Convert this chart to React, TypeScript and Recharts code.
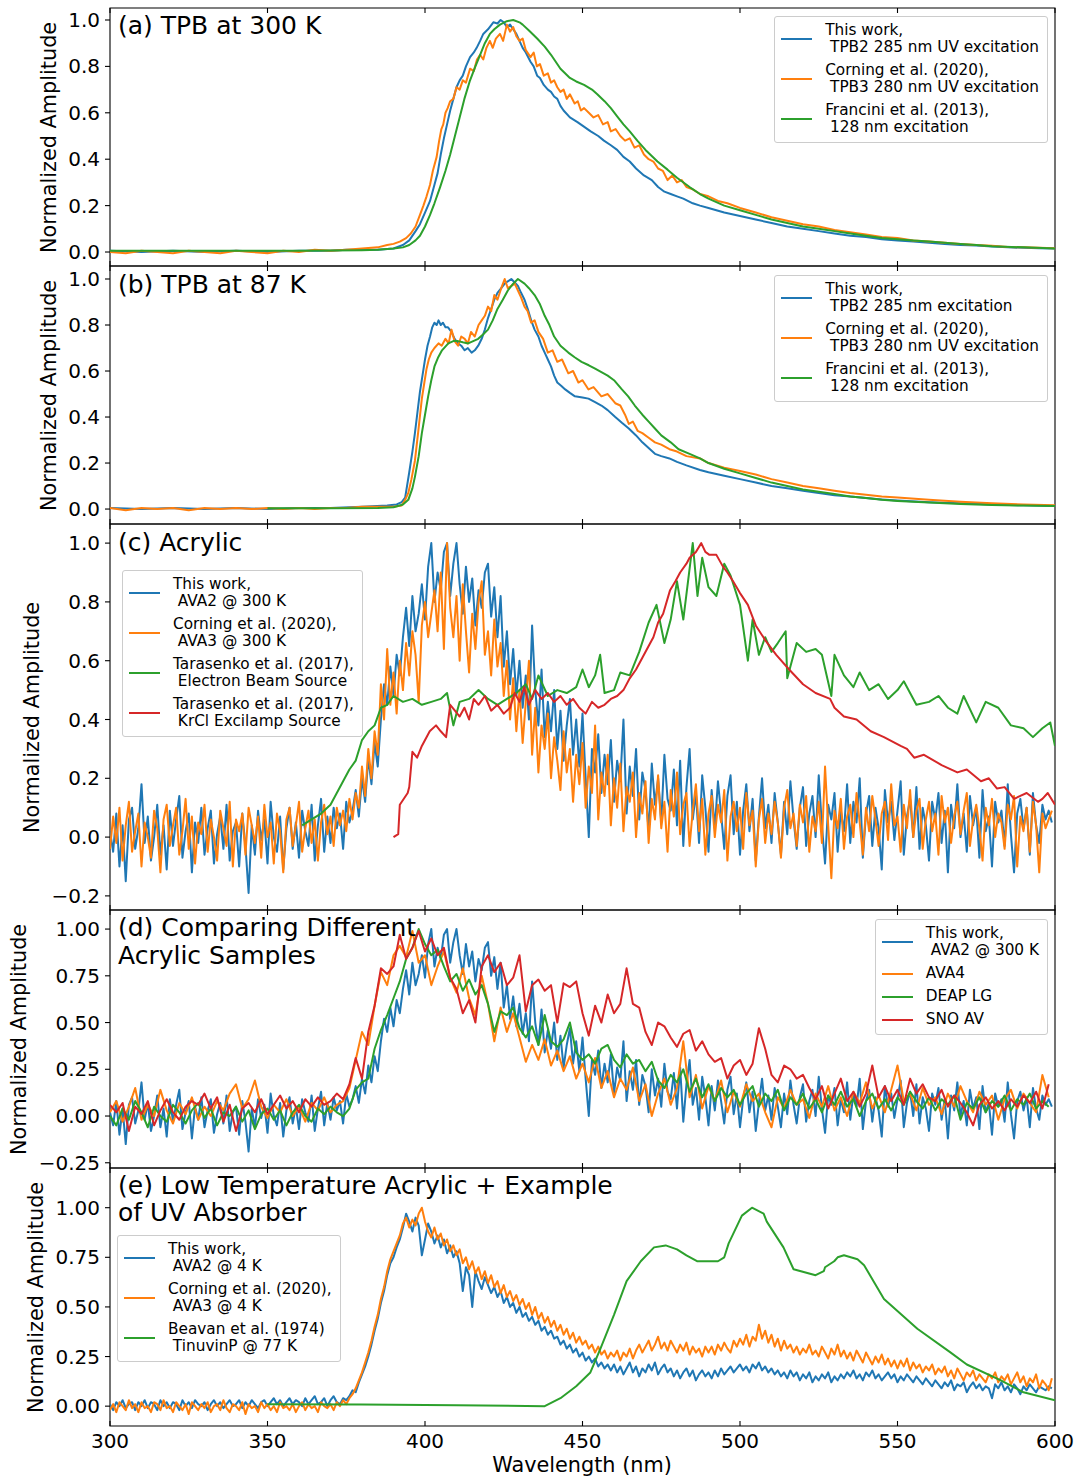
import React from 'react';
import { LineChart, Line, XAxis, YAxis, ReferenceArea } from 'recharts';

const C_BLUE = '#1f77b4';
const C_ORANGE = '#ff7f0e';
const C_GREEN = '#2ca02c';
const C_RED = '#d62728';
const FONT = "'DejaVu Sans', 'Liberation Sans', sans-serif";

const xTicks = [300, 350, 400, 450, 500, 550, 600];

// ---------- Panel (a): TPB at 300 K  [wavelength, amplitude]
const tpb300ThisWork = [[300,0.005],[310,0.0],[320,0.005],[330,0.0],[340,0.005],[350,0.0],[360,0.005],[370,0.005],[375,0.01],[380,0.01],[385,0.01],[390,0.015],[393,0.03],[395,0.05],[397,0.09],[398.4,0.12],[400,0.17],[401.6,0.22],[403,0.29],[404,0.34],[405,0.42],[406,0.49],[407,0.55],[408,0.61],[409,0.66],[410,0.71],[411,0.74],[412,0.76],[413,0.8],[414.3,0.84],[415.5,0.86],[416.4,0.88],[417.5,0.91],[418.5,0.94],[420,0.96],[421.7,0.99],[423,0.985],[424,1.0],[425,0.99],[426,0.97],[427,0.98],[428,0.96],[429,0.94],[430,0.91],[431,0.88],[432,0.86],[433.5,0.82],[434.5,0.8],[435.6,0.76],[436.5,0.75],[437.7,0.72],[439,0.7],[440,0.69],[441,0.67],[442,0.66],[443,0.63],[444,0.61],[446,0.58],[448.4,0.56],[450,0.545],[452.6,0.52],[455,0.5],[456.8,0.48],[459,0.46],[461,0.44],[463,0.41],[465,0.39],[467,0.36],[469.5,0.33],[472,0.31],[474,0.28],[476,0.26],[478,0.25],[480,0.24],[482,0.23],[485,0.21],[487.3,0.2],[490,0.19],[495,0.17],[500,0.155],[505,0.14],[510,0.125],[515,0.11],[520,0.1],[525,0.09],[530,0.08],[535,0.07],[540,0.065],[545,0.055],[550,0.05],[555,0.045],[560,0.04],[565,0.035],[570,0.03],[575,0.028],[580,0.024],[585,0.02],[590,0.018],[595,0.016],[600,0.015]];
const tpb300Corning = [[300,0.0],[305,-0.005],[310,0.005],[315,0.0],[320,-0.005],[325,0.005],[330,0.0],[335,-0.005],[340,0.005],[345,0.0],[350,-0.005],[355,0.005],[360,0.0],[365,0.01],[370,0.005],[375,0.01],[380,0.015],[385,0.02],[388,0.03],[390,0.035],[392,0.045],[394,0.06],[395.5,0.08],[397,0.11],[398.4,0.16],[399.5,0.2],[400.5,0.24],[401.6,0.29],[402.5,0.35],[403.7,0.41],[404.5,0.48],[405.2,0.53],[405.8,0.55],[406.5,0.6],[407.2,0.62],[408,0.65],[409,0.66],[410,0.71],[411,0.7],[412,0.74],[413,0.73],[414.3,0.79],[415.5,0.78],[416.5,0.83],[417.5,0.85],[418.5,0.83],[419.5,0.88],[420.6,0.91],[421.5,0.88],[422.5,0.92],[423.8,0.94],[424.8,0.91],[426,0.98],[427,0.95],[428,0.97],[429,0.93],[430,0.91],[431,0.92],[432,0.87],[433.5,0.84],[434.5,0.86],[435.5,0.8],[436.5,0.81],[437.7,0.76],[439,0.77],[440,0.73],[441,0.74],[442,0.71],[443,0.69],[444,0.7],[445,0.66],[446,0.68],[447.5,0.64],[448.5,0.65],[449.5,0.61],[450.5,0.62],[452,0.6],[453.5,0.58],[455,0.59],[456.5,0.55],[458,0.56],[459,0.52],[460.5,0.53],[462,0.5],[463.5,0.48],[465,0.49],[466.5,0.45],[468,0.46],[469.5,0.42],[471,0.4],[472.5,0.39],[474,0.36],[475.5,0.35],[477,0.31],[478.5,0.33],[480,0.3],[481.5,0.31],[483,0.28],[485,0.27],[487.3,0.25],[490,0.24],[493,0.22],[496,0.21],[500,0.19],[505,0.17],[510,0.15],[515,0.135],[520,0.12],[525,0.11],[530,0.095],[535,0.085],[540,0.075],[545,0.065],[550,0.06],[555,0.05],[560,0.045],[565,0.04],[570,0.035],[575,0.03],[580,0.027],[585,0.022],[590,0.02],[595,0.018],[600,0.016]];
const tpb300Francini = [[300,0.005],[320,0.005],[340,0.005],[360,0.005],[380,0.008],[385,0.01],[390,0.015],[393,0.02],[395,0.03],[397,0.05],[398.4,0.07],[400,0.11],[401.6,0.16],[403,0.21],[404.8,0.28],[406.5,0.35],[408,0.42],[409.5,0.5],[411,0.58],[412.5,0.66],[414.3,0.74],[416,0.8],[417.5,0.85],[419,0.9],[420.6,0.94],[422,0.96],[423.8,0.98],[426,0.995],[428,1.0],[430,0.99],[431,0.98],[433,0.955],[435.6,0.92],[438,0.885],[440,0.85],[443,0.79],[446,0.75],[448,0.735],[450.5,0.72],[453,0.7],[454.7,0.68],[457,0.65],[459,0.62],[461,0.585],[463,0.55],[465,0.52],[467.4,0.48],[470,0.44],[473.8,0.39],[477,0.355],[480,0.32],[484,0.28],[487.3,0.25],[490,0.23],[495,0.2],[500,0.18],[505,0.16],[510,0.14],[515,0.125],[520,0.11],[525,0.1],[530,0.09],[535,0.08],[540,0.07],[545,0.06],[550,0.055],[555,0.05],[560,0.045],[565,0.04],[570,0.035],[575,0.03],[580,0.025],[590,0.02],[600,0.015]];

// ---------- Panel (b): TPB at 87 K
const tpb87ThisWork = [[300,0.005],[310,0.0],[320,0.005],[330,0.0],[340,0.005],[350,0.0],[360,0.005],[370,0.005],[380,0.01],[388,0.015],[391,0.02],[392.6,0.03],[393.7,0.05],[395,0.16],[396,0.25],[396.8,0.33],[397.6,0.42],[398.4,0.51],[399.2,0.58],[400,0.65],[400.8,0.71],[401.6,0.75],[402.3,0.79],[403,0.81],[403.7,0.8],[404.3,0.82],[405,0.8],[405.7,0.81],[406.5,0.79],[407.3,0.79],[408.4,0.77],[409.4,0.74],[410.5,0.72],[411.5,0.71],[412.6,0.69],[413.6,0.7],[414.8,0.68],[415.8,0.69],[416.9,0.71],[418,0.74],[419,0.78],[420,0.83],[421,0.87],[422,0.91],[423,0.94],[424.2,0.96],[425.3,0.98],[426.3,0.99],[427.4,1.0],[428.5,0.985],[429.5,0.97],[430.5,0.94],[431.6,0.91],[432.6,0.87],[433.7,0.82],[434.8,0.78],[436,0.75],[437,0.71],[438,0.68],[439,0.65],[440,0.62],[441,0.58],[442,0.55],[443.3,0.535],[444.5,0.52],[446,0.505],[447.6,0.49],[450,0.485],[451.9,0.48],[454,0.465],[456,0.45],[458,0.43],[460.4,0.4],[462.5,0.375],[464.7,0.35],[467,0.32],[469,0.29],[471,0.265],[473,0.24],[475,0.23],[477.6,0.22],[480,0.205],[483,0.19],[487.3,0.17],[490,0.16],[495,0.145],[500,0.13],[505,0.115],[510,0.1],[515,0.09],[520,0.08],[525,0.07],[530,0.06],[535,0.055],[540,0.048],[545,0.042],[550,0.037],[560,0.03],[570,0.025],[580,0.02],[590,0.016],[600,0.013]];
const tpb87Corning = [[300,0.005],[305,-0.005],[310,0.005],[315,0.0],[320,0.005],[325,-0.005],[330,0.005],[335,0.0],[340,0.005],[345,0.0],[350,0.005],[355,0.0],[360,0.005],[365,0.0],[370,0.005],[375,0.005],[380,0.01],[385,0.01],[390,0.01],[392.6,0.015],[393.7,0.04],[394.7,0.07],[395.7,0.13],[396.8,0.21],[397.8,0.33],[399,0.48],[399.8,0.55],[400.5,0.61],[401.2,0.65],[402,0.68],[403,0.7],[404.3,0.72],[405.3,0.71],[406.5,0.74],[407.5,0.72],[408.4,0.78],[409.4,0.73],[410.5,0.71],[411.5,0.75],[412.6,0.74],[413.6,0.72],[414.6,0.77],[415.8,0.75],[417,0.8],[418,0.82],[419,0.84],[420,0.88],[421,0.86],[422,0.93],[423,0.91],[424.2,0.96],[425.3,1.0],[426.3,0.96],[427.4,0.97],[428.5,0.98],[429.5,0.95],[430.5,0.92],[431.6,0.88],[432.6,0.86],[433.7,0.81],[434.8,0.82],[436,0.77],[437.5,0.74],[439,0.68],[440.5,0.69],[442,0.64],[443.5,0.65],[445.5,0.59],[447,0.6],[448.7,0.55],[450,0.56],[451.9,0.52],[453.5,0.53],[456,0.49],[458,0.5],[460.4,0.46],[462,0.45],[463.5,0.41],[464.7,0.37],[466,0.38],[467.5,0.34],[469,0.33],[471,0.31],[473,0.29],[475,0.28],[477.6,0.26],[480,0.25],[483,0.23],[487.3,0.22],[490,0.2],[495,0.18],[500,0.165],[505,0.15],[510,0.13],[515,0.115],[520,0.1],[525,0.09],[530,0.08],[535,0.07],[540,0.062],[545,0.055],[550,0.05],[560,0.04],[570,0.032],[580,0.025],[590,0.02],[600,0.016]];
const tpb87Francini = [[350,0.003],[370,0.003],[385,0.005],[390,0.008],[393,0.02],[394.7,0.04],[396,0.09],[396.8,0.14],[398,0.23],[399,0.33],[400,0.41],[401,0.49],[402,0.56],[403,0.62],[404.2,0.66],[405.4,0.69],[407.4,0.72],[409,0.73],[410.5,0.73],[412,0.725],[413.7,0.72],[415.3,0.73],[416.9,0.74],[418.5,0.76],[420,0.78],[421.5,0.82],[423,0.87],[424.7,0.91],[426.3,0.95],[428,0.98],[429.5,1.0],[431.6,0.98],[433,0.96],[434.8,0.93],[436.5,0.89],[438,0.84],[439.5,0.8],[441,0.75],[443,0.71],[445.5,0.68],[447.5,0.66],[449.7,0.64],[452,0.625],[454,0.61],[456,0.595],[458,0.58],[460,0.56],[462.5,0.52],[464.5,0.49],[466.6,0.45],[469,0.41],[471,0.38],[473,0.35],[475,0.32],[478,0.29],[480.5,0.26],[484,0.24],[487.3,0.22],[490,0.2],[495,0.175],[500,0.155],[505,0.135],[510,0.115],[515,0.1],[520,0.085],[525,0.075],[530,0.065],[535,0.055],[540,0.048],[545,0.04],[550,0.035],[560,0.028],[570,0.022],[580,0.018],[590,0.015],[600,0.013]];

// ---------- Panel (c): Acrylic. Sampled every 1 nm from 300 nm
const ava2At300K = [
  0.02, -0.05, 0.08, -0.10, 0.04, -0.15, 0.06, 0.10, -0.04, 0.03,
  0.18, -0.02, 0.07, -0.08, 0.00, 0.11, -0.06, 0.04, -0.11, 0.09,
  -0.03, 0.06, 0.14, -0.07, 0.02, 0.08, -0.12, 0.05, -0.02, 0.10,
  -0.06, 0.03, 0.09, -0.09, 0.01, 0.07, -0.04, 0.11, -0.08, 0.02,
  0.05, -0.10, 0.08, -0.03, -0.19, 0.04, -0.06, 0.09, -0.01, 0.06,
  -0.09, 0.12, 0.00, -0.05, 0.07, -0.11, 0.03, 0.10, -0.04, 0.05,
  -0.07, 0.09, 0.02, -0.03, 0.11, -0.08, 0.04, 0.13, -0.05, 0.07,
  -0.02, 0.10, 0.03, 0.08, -0.04, 0.12, 0.05, 0.09, 0.16, 0.07,
  0.20, 0.12, 0.27, 0.18, 0.32, 0.24, 0.40, 0.52, 0.45, 0.58,
  0.48, 0.62, 0.55, 0.68, 0.78, 0.65, 0.82, 0.70, 0.76, 0.86,
  0.74, 0.92, 1.00, 0.80, 0.90, 0.84, 0.97, 1.00, 0.82, 0.93,
  1.00, 0.86, 0.76, 0.92, 0.80, 0.88, 0.72, 0.84, 0.78, 0.90,
  0.93, 0.75, 0.85, 0.68, 0.82, 0.58, 0.70, 0.52, 0.64, 0.48,
  0.60, 0.44, 0.55, 0.40, 0.72, 0.50, 0.38, 0.57, 0.34, 0.46,
  0.36, 0.50, 0.30, 0.43, 0.26, 0.38, 0.47, 0.28, 0.40, 0.24,
  0.42, 0.20, 0.00, 0.30, 0.22, 0.35, 0.15, 0.28, 0.18, 0.33,
  0.12, 0.26, 0.19, 0.40, 0.08, 0.24, 0.14, 0.30, 0.06, 0.22,
  0.16, 0.02, 0.25, 0.11, 0.20, 0.05, 0.28, 0.13, 0.09, 0.23,
  0.04, 0.26, -0.03, 0.17, 0.30, 0.06, 0.15, -0.02, 0.21, 0.10,
  -0.05, 0.16, 0.03, 0.19, 0.08, -0.04, 0.14, 0.21, 0.01, 0.12,
  -0.06, 0.09, 0.18, 0.02, 0.13, -0.08, 0.07, 0.20, 0.03, 0.11,
  -0.02, 0.15, 0.05, -0.06, 0.12, 0.01, 0.19, 0.06, -0.04, 0.10,
  0.17, -0.03, 0.08, 0.14, 0.00, 0.21, 0.04, -0.09, 0.11, 0.06,
  0.15, -0.05, 0.09, 0.02, 0.18, -0.02, 0.12, 0.05, 0.20, -0.07,
  0.08, 0.14, -0.03, 0.10, 0.03, -0.11, 0.16, 0.05, 0.12, -0.01,
  0.09, 0.19, -0.06, 0.07, 0.13, 0.00, 0.17, -0.04, 0.10, 0.04,
  -0.08, 0.12, 0.06, 0.15, -0.02, 0.09, -0.12, 0.11, 0.03, 0.18,
  0.00, 0.08, -0.05, 0.14, 0.04, 0.10, -0.07, 0.16, 0.02, 0.07,
  -0.10, 0.12, 0.05, 0.09, -0.03, 0.18, 0.01, -0.12, 0.08, 0.13,
  0.03, 0.10, -0.06, 0.15, 0.04, -0.02, 0.11, 0.06, 0.09, 0.05,
];
const ava3At300K = [
  -0.04, 0.07, -0.02, 0.10, -0.08, 0.04, 0.12, -0.05, 0.02, 0.08,
  -0.10, 0.05, 0.00, -0.07, 0.09, 0.03, -0.12, 0.06, 0.11, -0.03,
  0.04, 0.10, -0.06, 0.02, 0.13, -0.04, 0.07, -0.09, 0.05, 0.01,
  0.11, -0.05, 0.06, 0.00, -0.08, 0.09, 0.03, -0.03, 0.12, -0.10,
  0.06, 0.02, 0.08, -0.06, 0.10, 0.04, -0.02, 0.07, -0.07, 0.11,
  0.00, 0.05, -0.09, 0.08, 0.02, -0.12, 0.06, 0.10, -0.03, 0.04,
  0.12, -0.05, 0.03, 0.09, -0.02, 0.06, -0.08, 0.05, 0.11, 0.01,
  0.07, -0.03, 0.10, 0.04, 0.09, 0.02, 0.13, 0.06, 0.15, 0.10,
  0.24, 0.14, 0.30, 0.20, 0.36, 0.28, 0.52, 0.40, 0.64, 0.45,
  0.56, 0.42, 0.60, 0.50, 0.66, 0.55, 0.70, 0.62, 0.46, 0.72,
  0.80, 0.68, 0.76, 0.84, 0.70, 0.90, 0.64, 1.00, 0.78, 0.68,
  0.82, 0.60, 0.86, 0.70, 0.56, 0.76, 0.64, 0.80, 0.87, 0.62,
  0.70, 0.55, 0.74, 0.58, 0.66, 0.48, 0.60, 0.40, 0.54, 0.36,
  0.50, 0.32, 0.46, 0.60, 0.28, 0.44, 0.22, 0.38, 0.30, 0.42,
  0.20, 0.34, 0.26, 0.16, 0.36, 0.22, 0.30, 0.12, 0.28, 0.18,
  0.32, 0.10, 0.24, 0.15, 0.38, 0.06, 0.22, 0.14, 0.28, 0.04,
  0.20, 0.10, 0.25, 0.02, 0.17, 0.12, 0.22, 0.00, 0.15, 0.08,
  0.19, -0.02, 0.13, 0.06, 0.21, 0.03, 0.12, -0.05, 0.16, 0.07,
  0.22, 0.01, 0.11, 0.15, -0.03, 0.09, 0.18, 0.02, 0.13, -0.06,
  0.08, 0.14, 0.00, 0.11, 0.05, 0.16, -0.08, 0.07, 0.12, 0.02,
  0.10, -0.04, 0.15, 0.04, 0.09, -0.10, 0.06, 0.13, -0.02, 0.08,
  0.01, 0.12, 0.05, -0.07, 0.10, 0.16, 0.03, 0.08, -0.03, 0.11,
  0.05, 0.14, -0.05, 0.07, 0.02, 0.12, -0.02, 0.24, 0.04, -0.14,
  0.09, 0.03, 0.13, -0.04, 0.07, 0.11, 0.00, 0.15, 0.05, -0.06,
  0.10, 0.02, 0.14, 0.06, -0.03, 0.08, 0.12, -0.01, 0.18, 0.04,
  0.07, -0.05, 0.11, 0.03, 0.16, 0.00, 0.09, 0.13, -0.04, 0.06,
  0.12, 0.02, 0.08, -0.06, 0.14, 0.05, 0.10, -0.02, 0.07, 0.12,
  0.01, 0.09, 0.15, -0.03, 0.06, 0.11, 0.03, -0.08, 0.10, 0.04,
  0.13, 0.00, 0.08, 0.05, -0.04, 0.11, 0.06, 0.14, -0.10, 0.07,
  0.02, 0.10, -0.05, 0.12, 0.04, -0.12, 0.08, 0.03, 0.06, 0.09,
];
const tarasenkoEBeam = [[361,0.04],[364,0.06],[367,0.08],[370,0.11],[372,0.15],[374,0.19],[376,0.23],[378,0.26],[380,0.33],[382,0.36],[384,0.38],[386,0.44],[388,0.45],[390,0.48],[393,0.46],[396,0.47],[399,0.45],[402,0.46],[405,0.47],[407,0.49],[409,0.38],[411,0.46],[414,0.47],[417,0.5],[420,0.47],[423,0.45],[426,0.47],[429,0.49],[432,0.52],[434,0.47],[436,0.55],[439,0.48],[442,0.5],[445,0.49],[448,0.51],[450,0.57],[452,0.51],[454,0.55],[455.6,0.62],[457,0.49],[460,0.5],[462,0.56],[465,0.55],[468,0.63],[471,0.73],[473.5,0.79],[476,0.66],[478,0.74],[480,0.87],[482,0.74],[485,1.0],[486.5,0.82],[488,0.95],[490,0.85],[492.5,0.82],[495,0.93],[497,0.89],[500,0.79],[502.5,0.6],[504,0.74],[506,0.62],[508,0.68],[510,0.63],[512,0.66],[514.5,0.7],[515,0.54],[518,0.66],[521,0.63],[524,0.64],[526,0.62],[529,0.48],[530,0.62],[533,0.55],[536,0.51],[538,0.56],[541,0.5],[544,0.52],[547,0.47],[550,0.5],[552,0.53],[556,0.45],[560,0.46],[563,0.48],[566,0.44],[569,0.42],[571,0.48],[575,0.39],[578,0.46],[582,0.44],[586,0.38],[590,0.37],[593,0.34],[596,0.37],[598.5,0.39],[600,0.31]];
const tarasenkoKrCl = [[390,0.0],[391.5,0.01],[392,0.11],[394.5,0.15],[395,0.17],[396,0.29],[397.5,0.27],[399,0.31],[401.5,0.36],[403.5,0.38],[405,0.36],[406.7,0.34],[408,0.45],[409.5,0.43],[411,0.41],[412.5,0.44],[414,0.4],[415.5,0.47],[417,0.45],[419,0.48],[421,0.43],[423,0.45],[425,0.42],[427,0.44],[428.5,0.49],[430,0.46],[431.5,0.51],[433,0.45],[435,0.5],[437,0.47],[439,0.49],[441,0.46],[443,0.48],[445,0.45],[447,0.47],[449,0.44],[451,0.42],[453,0.46],[455,0.44],[457,0.45],[459,0.47],[461,0.48],[463,0.5],[465,0.54],[467,0.57],[469,0.61],[471,0.65],[472.5,0.68],[474,0.73],[475.6,0.76],[477.8,0.84],[479.5,0.87],[481,0.9],[483,0.93],[484,0.95],[486,0.97],[487.7,1.0],[489,0.97],[490.3,0.96],[492.5,0.96],[494.6,0.92],[496,0.9],[497.8,0.87],[500,0.83],[502.5,0.79],[505,0.72],[508,0.67],[511.5,0.62],[515.6,0.57],[520,0.52],[524,0.49],[528.6,0.47],[530,0.44],[533,0.41],[537,0.4],[541.5,0.36],[545.7,0.34],[551,0.31],[553,0.3],[555.3,0.27],[558.4,0.28],[564,0.245],[569,0.22],[572,0.23],[576.5,0.19],[579,0.2],[581.6,0.165],[584,0.17],[587,0.13],[589,0.14],[591,0.15],[594.6,0.12],[596,0.13],[597.7,0.15],[600,0.11]];

// ---------- Panel (d): other acrylic samples (every 2 nm from 300 nm)
const ava4 = [
  0.02, 0.08, -0.03, 0.05, 0.15, -0.02, 0.06, 0.00, 0.14, 0.03,
  -0.04, 0.07, 0.01, 0.10, -0.02, 0.05, 0.00, 0.08, 0.03, 0.12,
  0.17, 0.04, 0.09, 0.19, 0.05, -0.01, 0.06, 0.02, 0.09, 0.00,
  0.05, -0.03, 0.07, 0.03, 0.10, 0.02, 0.06, 0.08, 0.15, 0.30,
  0.45, 0.38, 0.59, 0.77, 0.70, 0.86, 0.91, 0.85, 0.99, 0.82,
  0.86, 0.70, 0.80, 0.88, 0.74, 0.66, 0.79, 0.63, 0.54, 0.75,
  0.60, 0.40, 0.58, 0.45, 0.55, 0.42, 0.29, 0.38, 0.30, 0.41,
  0.27, 0.35, 0.24, 0.32, 0.20, 0.28, 0.18, 0.31, 0.15, 0.24,
  0.10, 0.20, 0.14, 0.26, 0.08, 0.17, 0.00, 0.12, 0.20, 0.06,
  0.15, 0.40, 0.10, 0.22, 0.04, 0.16, 0.08, 0.19, 0.02, 0.13,
  0.05, 0.17, 0.08, 0.12, 0.02, -0.06, 0.10, 0.04, 0.14, 0.06,
  0.09, -0.01, 0.12, 0.05, 0.16, 0.03, 0.10, 0.00, 0.13, 0.07,
  0.18, 0.04, 0.11, 0.02, 0.14, 0.27, 0.08, 0.12, 0.03, 0.15,
  0.06, 0.10, 0.01, 0.12, 0.05, 0.16, 0.08, 0.02, 0.13, 0.06,
  0.11, -0.02, 0.09, 0.14, 0.04, 0.12, 0.07, 0.02, 0.22, 0.10,
];
const deapLG = [
  0.00, -0.05, 0.04, -0.02, 0.08, 0.02, -0.06, 0.05, 0.00, -0.03,
  0.06, 0.02, -0.04, 0.03, 0.07, -0.01, 0.04, -0.05, 0.02, 0.00,
  0.05, -0.03, 0.03, -0.07, 0.01, 0.04, -0.02, 0.03, -0.05, 0.02,
  0.06, 0.00, -0.03, 0.04, 0.01, 0.05, 0.02, 0.00, 0.04, 0.14,
  0.18, 0.20, 0.36, 0.46, 0.54, 0.63, 0.72, 0.84, 0.90, 1.00,
  0.92, 0.86, 0.89, 0.80, 0.72, 0.76, 0.67, 0.73, 0.65, 0.70,
  0.60, 0.45, 0.56, 0.54, 0.58, 0.47, 0.42, 0.48, 0.38, 0.54,
  0.40, 0.37, 0.41, 0.50, 0.34, 0.30, 0.33, 0.28, 0.36, 0.38,
  0.30, 0.26, 0.33, 0.28, 0.30, 0.24, 0.29, 0.19, 0.15, 0.22,
  0.18, 0.25, 0.13, 0.20, 0.10, 0.17, 0.08, 0.15, 0.10, 0.14,
  0.06, 0.12, 0.16, 0.05, 0.12, 0.08, 0.14, 0.03, 0.10, 0.06,
  0.12, 0.04, 0.09, 0.02, 0.11, 0.06, 0.13, 0.05, 0.09, 0.00,
  0.08, 0.12, 0.04, 0.09, 0.03, 0.10, 0.06, 0.13, 0.08, 0.04,
  0.10, 0.03, 0.09, 0.06, 0.11, -0.02, 0.07, 0.04, 0.10, 0.02,
  0.08, 0.05, 0.11, 0.03, 0.09, 0.06, 0.12, 0.04, 0.08, 0.05,
];
const snoAV = [
  0.06, 0.02, 0.07, -0.08, 0.05, 0.01, 0.08, -0.05, 0.03, 0.09,
  0.02, -0.02, 0.05, 0.08, 0.06, 0.12, 0.04, 0.10, -0.03, 0.06,
  -0.08, 0.04, 0.07, 0.02, 0.09, 0.01, 0.06, 0.11, 0.04, 0.08,
  0.02, 0.09, 0.05, 0.10, 0.06, 0.08, 0.12, 0.09, 0.17, 0.31,
  0.20, 0.45, 0.59, 0.79, 0.76, 0.80, 0.97, 0.84, 0.90, 0.99,
  0.88, 0.95, 0.86, 0.90, 0.74, 0.68, 0.55, 0.62, 0.50, 0.80,
  0.86, 0.77, 0.82, 0.70, 0.74, 0.86, 0.56, 0.70, 0.73, 0.67,
  0.70, 0.50, 0.71, 0.69, 0.72, 0.55, 0.43, 0.59, 0.50, 0.65,
  0.55, 0.60, 0.79, 0.60, 0.58, 0.45, 0.38, 0.50, 0.48, 0.42,
  0.37, 0.44, 0.46, 0.35, 0.40, 0.33, 0.29, 0.31, 0.20, 0.27,
  0.30, 0.22, 0.28, 0.47, 0.36, 0.22, 0.18, 0.27, 0.25, 0.20,
  0.22, 0.15, 0.09, 0.16, 0.04, 0.12, 0.20, 0.08, 0.13, 0.05,
  0.12, 0.27, 0.10, 0.16, 0.08, 0.14, 0.06, 0.20, 0.12, 0.17,
  0.10, 0.08, 0.14, 0.05, 0.11, 0.07, 0.02, -0.05, 0.06, 0.10,
  0.04, 0.08, 0.03, 0.09, 0.05, 0.11, 0.07, 0.13, 0.04, 0.17,
];

// ---------- Panel (e): low temperature (every 1 nm from 300 nm)
const ava2At4K = [
  0.01, -0.02, 0.02, 0.00, 0.03, -0.01, 0.01, 0.02, -0.02, 0.02,
  0.00, 0.03, -0.01, 0.02, 0.01, -0.02, 0.03, 0.00, 0.02, -0.01,
  0.02, 0.01, -0.02, 0.03, 0.00, 0.02, -0.01, 0.03, 0.01, 0.00,
  0.02, -0.02, 0.01, 0.03, 0.00, 0.02, -0.01, 0.01, 0.03, 0.00,
  0.01, 0.03, -0.01, 0.02, 0.00, 0.03, 0.01, -0.01, 0.02, 0.03,
  0.00, 0.02, 0.04, 0.01, 0.03, 0.00, 0.02, 0.04, 0.01, 0.03,
  0.02, 0.00, 0.04, 0.01, 0.03, 0.05, 0.01, 0.02, 0.04, 0.00,
  0.03, 0.05, 0.02, 0.01, 0.04, 0.03, 0.05, 0.08, 0.07, 0.12,
  0.16, 0.20, 0.25, 0.31, 0.38, 0.44, 0.52, 0.58, 0.66, 0.72,
  0.75, 0.80, 0.84, 0.90, 0.97, 0.93, 0.88, 0.95, 0.91, 0.76,
  0.84, 0.92, 0.88, 0.82, 0.86, 0.80, 0.84, 0.77, 0.81, 0.75,
  0.78, 0.72, 0.58, 0.70, 0.66, 0.50, 0.68, 0.63, 0.59, 0.65,
  0.61, 0.57, 0.60, 0.55, 0.58, 0.52, 0.55, 0.50, 0.52, 0.47,
  0.50, 0.45, 0.47, 0.43, 0.45, 0.41, 0.43, 0.38, 0.40, 0.36,
  0.38, 0.34, 0.35, 0.31, 0.33, 0.29, 0.31, 0.27, 0.29, 0.25,
  0.27, 0.23, 0.25, 0.22, 0.24, 0.20, 0.22, 0.19, 0.21, 0.18,
  0.21, 0.17, 0.20, 0.16, 0.19, 0.22, 0.17, 0.20, 0.15, 0.19,
  0.17, 0.21, 0.18, 0.22, 0.16, 0.19, 0.21, 0.17, 0.19, 0.15,
  0.18, 0.14, 0.17, 0.19, 0.15, 0.18, 0.13, 0.16, 0.18, 0.15,
  0.17, 0.14, 0.18, 0.15, 0.19, 0.16, 0.18, 0.20, 0.17, 0.19,
  0.21, 0.18, 0.20, 0.17, 0.21, 0.19, 0.22, 0.18, 0.20, 0.17,
  0.19, 0.16, 0.18, 0.15, 0.17, 0.14, 0.18, 0.15, 0.17, 0.13,
  0.16, 0.14, 0.17, 0.12, 0.15, 0.13, 0.16, 0.14, 0.17, 0.12,
  0.15, 0.13, 0.16, 0.14, 0.17, 0.15, 0.18, 0.14, 0.16, 0.13,
  0.17, 0.15, 0.18, 0.14, 0.16, 0.13, 0.15, 0.17, 0.14, 0.16,
  0.12, 0.15, 0.13, 0.16, 0.14, 0.12, 0.15, 0.13, 0.11, 0.14,
  0.12, 0.10, 0.13, 0.11, 0.09, 0.12, 0.10, 0.13, 0.08, 0.11,
  0.10, 0.12, 0.07, 0.10, 0.12, 0.09, 0.11, 0.08, 0.10, 0.09,
  0.04, 0.11, 0.09, 0.12, 0.08, 0.10, 0.07, 0.11, 0.09, 0.06,
  0.10, 0.08, 0.11, 0.09, 0.07, 0.10, 0.09, 0.08, 0.10, 0.09,
];
const ava3At4K = [
  -0.02, 0.01, -0.03, 0.02, 0.00, -0.02, 0.03, -0.01, 0.01, -0.03,
  0.02, -0.01, 0.00, -0.03, 0.02, 0.01, -0.02, 0.03, -0.01, 0.00,
  -0.03, 0.02, 0.00, -0.02, 0.01, -0.04, 0.02, 0.00, -0.02, 0.01,
  -0.01, 0.02, -0.03, 0.00, 0.01, -0.02, 0.03, -0.01, -0.03, 0.01,
  0.00, -0.02, 0.02, -0.04, 0.01, -0.01, 0.00, -0.03, 0.02, -0.01,
  0.01, -0.02, 0.00, -0.03, 0.02, -0.01, 0.00, -0.02, 0.01, -0.03,
  0.00, 0.02, -0.02, 0.01, -0.01, 0.00, -0.03, 0.02, 0.00, -0.01,
  0.01, -0.02, 0.02, 0.00, 0.03, 0.01, 0.04, 0.06, 0.09, 0.13,
  0.17, 0.22, 0.27, 0.33, 0.40, 0.46, 0.54, 0.60, 0.68, 0.74,
  0.78, 0.82, 0.86, 0.92, 0.95, 0.90, 0.94, 0.91, 0.97, 1.00,
  0.93, 0.88, 0.85, 0.90, 0.84, 0.87, 0.81, 0.84, 0.78, 0.81,
  0.76, 0.79, 0.72, 0.75, 0.69, 0.73, 0.67, 0.70, 0.64, 0.68,
  0.62, 0.66, 0.60, 0.63, 0.57, 0.61, 0.55, 0.58, 0.53, 0.56,
  0.51, 0.54, 0.49, 0.52, 0.46, 0.50, 0.44, 0.47, 0.42, 0.45,
  0.40, 0.43, 0.38, 0.41, 0.36, 0.39, 0.34, 0.37, 0.32, 0.35,
  0.31, 0.33, 0.29, 0.31, 0.27, 0.30, 0.26, 0.28, 0.24, 0.27,
  0.25, 0.28, 0.23, 0.27, 0.25, 0.29, 0.24, 0.28, 0.31, 0.27,
  0.30, 0.33, 0.28, 0.31, 0.35, 0.29, 0.32, 0.28, 0.33, 0.30,
  0.27, 0.31, 0.28, 0.32, 0.26, 0.30, 0.27, 0.29, 0.25, 0.30,
  0.27, 0.30, 0.26, 0.31, 0.28, 0.32, 0.29, 0.27, 0.33, 0.30,
  0.34, 0.31, 0.36, 0.30, 0.35, 0.33, 0.41, 0.34, 0.38, 0.32,
  0.36, 0.30, 0.34, 0.28, 0.33, 0.29, 0.31, 0.27, 0.30, 0.26,
  0.29, 0.27, 0.31, 0.26, 0.28, 0.25, 0.30, 0.27, 0.24, 0.29,
  0.26, 0.31, 0.25, 0.28, 0.24, 0.27, 0.23, 0.28, 0.25, 0.22,
  0.27, 0.24, 0.21, 0.25, 0.22, 0.26, 0.21, 0.24, 0.20, 0.23,
  0.19, 0.23, 0.20, 0.24, 0.18, 0.22, 0.19, 0.21, 0.17, 0.20,
  0.18, 0.21, 0.16, 0.19, 0.17, 0.20, 0.15, 0.18, 0.14, 0.19,
  0.16, 0.13, 0.17, 0.15, 0.18, 0.13, 0.16, 0.14, 0.12, 0.16,
  0.14, 0.17, 0.12, 0.15, 0.13, 0.16, 0.11, 0.14, 0.17, 0.12,
  0.15, 0.10, 0.14, 0.12, 0.16, 0.09, 0.13, 0.11, 0.08, 0.14,
];
const tinuvinP77K = [[350,0.01],[380,0.008],[410,0.005],[438,0.0],[443,0.04],[448,0.1],[452.5,0.17],[455.7,0.29],[460,0.46],[464,0.63],[468.5,0.73],[472.7,0.8],[476.4,0.81],[480,0.79],[483,0.76],[486.5,0.73],[493,0.73],[495,0.75],[496.4,0.82],[500.6,0.96],[503.8,1.0],[507.5,0.97],[508.5,0.93],[513.8,0.8],[517,0.69],[524,0.66],[526.6,0.68],[527,0.7],[529.9,0.73],[531,0.75],[533,0.76],[537.3,0.74],[539.4,0.71],[545.7,0.54],[556.3,0.39],[566.9,0.27],[572,0.21],[582.8,0.13],[590,0.07],[600,0.03]];

// ---------- helpers
type Pt = { x: number; y: number };
const fromGrid = (vals: number[], step: number): Pt[] => vals.map((y, i) => ({ x: 300 + step * i, y }));
const fromPairs = (p: number[][]): Pt[] => p.map(([x, y]) => ({ x, y }));

type Series = { data: Pt[]; color: string };
type LegendEntry = { color: string; lines: string[] };
type PanelSpec = {
  top: number;
  bottom: number;
  domain: [number, number];
  yTicks: number[];
  decimals: number;
  series: Series[];
  last?: boolean;
};

const PLOT_LEFT = 110;
const PLOT_RIGHT = 1055;
const W = 1083;
const PAD_T = 8;

const fmt = (d: number) => (v: number) => (v < -1e-9 ? '\u2212' : '') + Math.abs(v).toFixed(d);

function Panel({ spec }: { spec: PanelSpec }) {
  const plotH = spec.bottom - spec.top;
  const xH = spec.last ? 60 : 8;
  const height = PAD_T + plotH + xH;
  const plotTop = PAD_T;
  const plotBottom = PAD_T + plotH;
  const renderXTick = (props: any) => {
    const { x, payload } = props;
    return (
      <g>
        <line x1={x} x2={x} y1={plotBottom} y2={plotBottom - 5} stroke="#000" strokeWidth={1.1} />
        <line x1={x} x2={x} y1={plotTop} y2={plotTop + 5} stroke="#000" strokeWidth={1.1} />
        {spec.last ? (
          <text x={x} y={plotBottom + 21.5} textAnchor="middle" fontSize={20} fontFamily={FONT} fill="#000">
            {payload.value}
          </text>
        ) : null}
      </g>
    );
  };
  return (
    <div style={{ position: 'absolute', left: 0, top: spec.top - PAD_T }}>
      <LineChart width={W} height={height} margin={{ top: PAD_T, right: W - PLOT_RIGHT, bottom: 0, left: 0 }}>
        <XAxis
          type="number"
          dataKey="x"
          domain={[300, 600]}
          ticks={xTicks}
          interval={0}
          allowDataOverflow
          axisLine={false}
          tickLine={false}
          height={xH}
          tick={renderXTick}
        />
        <YAxis
          type="number"
          domain={spec.domain}
          ticks={spec.yTicks}
          interval={0}
          allowDataOverflow
          width={PLOT_LEFT}
          axisLine={false}
          tickSize={5}
          tickMargin={5}
          tickLine={{ stroke: '#000', strokeWidth: 1.1 }}
          tick={{ fill: '#000', fontSize: 20, fontFamily: FONT }}
          tickFormatter={fmt(spec.decimals)}
        />
        {spec.series.map((s, i) => (
          <Line
            key={i}
            data={s.data}
            dataKey="y"
            type="linear"
            stroke={s.color}
            strokeWidth={2}
            strokeLinejoin="round"
            dot={false}
            activeDot={false}
            isAnimationActive={false}
          />
        ))}
        <ReferenceArea
          x1={300}
          x2={600}
          y1={spec.domain[0]}
          y2={spec.domain[1]}
          fill="none"
          fillOpacity={0}
          stroke="#000"
          strokeWidth={1.1}
          ifOverflow="visible"
        />
      </LineChart>
    </div>
  );
}

function LegendBox({ entries, pos }: { entries: LegendEntry[]; pos: React.CSSProperties }) {
  return (
    <div
      style={{
        position: 'absolute',
        ...pos,
        background: 'rgba(255,255,255,0.8)',
        border: '1px solid #cccccc',
        borderRadius: 3,
        padding: '5px 8px 6px 6px',
        fontFamily: FONT,
        fontSize: 15.3,
        lineHeight: '17px',
        color: '#000',
      }}
    >
      {entries.map((e, i) => (
        <div key={i} style={{ display: 'flex', alignItems: 'center', marginTop: i ? 6 : 0 }}>
          <div style={{ width: 31, height: 2, background: e.color, marginRight: 13, flex: 'none' }} />
          <div style={{ whiteSpace: 'pre' }}>{e.lines.join('\n')}</div>
        </div>
      ))}
    </div>
  );
}

function Title({ text, left, top }: { text: string; left: number; top: number }) {
  return (
    <div
      style={{
        position: 'absolute',
        left,
        top,
        fontFamily: FONT,
        fontSize: 25,
        lineHeight: '27.5px',
        whiteSpace: 'pre',
        color: '#000',
      }}
    >
      {text}
    </div>
  );
}

function YLabel({ cx, cy }: { cx: number; cy: number }) {
  return (
    <div
      style={{
        position: 'absolute',
        left: cx - 150,
        top: cy - 10.4,
        width: 300,
        height: 20.8,
        lineHeight: '20.8px',
        textAlign: 'center',
        fontFamily: FONT,
        fontSize: 20.8,
        color: '#000',
        transform: 'rotate(-90deg)',
        transformOrigin: '50% 50%',
        whiteSpace: 'nowrap',
      }}
    >
      Normalized Amplitude
    </div>
  );
}

const panels: PanelSpec[] = [
  {
    top: 8, bottom: 266, domain: [-0.0603, 1.0517], yTicks: [0, 0.2, 0.4, 0.6, 0.8, 1.0], decimals: 1,
    series: [
      { data: fromPairs(tpb300ThisWork), color: C_BLUE },
      { data: fromPairs(tpb300Corning), color: C_ORANGE },
      { data: fromPairs(tpb300Francini), color: C_GREEN },
    ],
  },
  {
    top: 266, bottom: 524, domain: [-0.065, 1.0565], yTicks: [0, 0.2, 0.4, 0.6, 0.8, 1.0], decimals: 1,
    series: [
      { data: fromPairs(tpb87ThisWork), color: C_BLUE },
      { data: fromPairs(tpb87Corning), color: C_ORANGE },
      { data: fromPairs(tpb87Francini), color: C_GREEN },
    ],
  },
  {
    top: 524, bottom: 910, domain: [-0.248, 1.065], yTicks: [-0.2, 0, 0.2, 0.4, 0.6, 0.8, 1.0], decimals: 1,
    series: [
      { data: fromGrid(ava2At300K, 1), color: C_BLUE },
      { data: fromGrid(ava3At300K, 1), color: C_ORANGE },
      { data: fromPairs(tarasenkoEBeam), color: C_GREEN },
      { data: fromPairs(tarasenkoKrCl), color: C_RED },
    ],
  },
  {
    top: 910, bottom: 1168, domain: [-0.278, 1.102], yTicks: [-0.25, 0, 0.25, 0.5, 0.75, 1.0], decimals: 2,
    series: [
      { data: fromGrid(ava2At300K, 1), color: C_BLUE },
      { data: fromGrid(ava4, 2), color: C_ORANGE },
      { data: fromGrid(deapLG, 2), color: C_GREEN },
      { data: fromGrid(snoAV, 2), color: C_RED },
    ],
  },
  {
    top: 1168, bottom: 1426, domain: [-0.1, 1.2], yTicks: [0, 0.25, 0.5, 0.75, 1.0], decimals: 2, last: true,
    series: [
      { data: fromGrid(ava2At4K, 1), color: C_BLUE },
      { data: fromGrid(ava3At4K, 1), color: C_ORANGE },
      { data: fromPairs(tinuvinP77K), color: C_GREEN },
    ],
  },
];

export default function App() {
  return (
    <div style={{ position: 'absolute', left: 0, top: 0, width: W, height: 1479, background: '#fff', overflow: 'hidden' }}>
      {panels.map((p, i) => (
        <Panel key={i} spec={p} />
      ))}

      <Title text="(a) TPB at 300 K" left={118} top={11.6} />
      <Title text="(b) TPB at 87 K" left={118} top={271} />
      <Title text="(c) Acrylic" left={118} top={528.6} />
      <Title text={'(d) Comparing Different\nAcrylic Samples'} left={118} top={914.1} />
      <Title text={'(e) Low Temperature Acrylic + Example\nof UV Absorber'} left={118} top={1171.9} />

      <YLabel cx={48.5} cy={137} />
      <YLabel cx={48.5} cy={395} />
      <YLabel cx={32} cy={717} />
      <YLabel cx={18.5} cy={1039} />
      <YLabel cx={35.5} cy={1297} />

      <div
        style={{
          position: 'absolute',
          left: 382,
          width: 400,
          top: 1455.4,
          textAlign: 'center',
          fontFamily: FONT,
          fontSize: 20.8,
          lineHeight: '20.8px',
          color: '#000',
        }}
      >
        Wavelength (nm)
      </div>

      <LegendBox
        pos={{ right: W - 1048, top: 16 }}
        entries={[
          { color: C_BLUE, lines: ['This work,', ' TPB2 285 nm UV excitation'] },
          { color: C_ORANGE, lines: ['Corning et al. (2020),', ' TPB3 280 nm UV excitation'] },
          { color: C_GREEN, lines: ['Francini et al. (2013),', ' 128 nm excitation'] },
        ]}
      />
      <LegendBox
        pos={{ right: W - 1048, top: 275 }}
        entries={[
          { color: C_BLUE, lines: ['This work,', ' TPB2 285 nm excitation'] },
          { color: C_ORANGE, lines: ['Corning et al. (2020),', ' TPB3 280 nm UV excitation'] },
          { color: C_GREEN, lines: ['Francini et al. (2013),', ' 128 nm excitation'] },
        ]}
      />
      <LegendBox
        pos={{ left: 122, top: 570 }}
        entries={[
          { color: C_BLUE, lines: ['This work,', ' AVA2 @ 300 K'] },
          { color: C_ORANGE, lines: ['Corning et al. (2020),', ' AVA3 @ 300 K'] },
          { color: C_GREEN, lines: ['Tarasenko et al. (2017),', ' Electron Beam Source'] },
          { color: C_RED, lines: ['Tarasenko et al. (2017),', ' KrCl Excilamp Source'] },
        ]}
      />
      <LegendBox
        pos={{ right: W - 1048, top: 919 }}
        entries={[
          { color: C_BLUE, lines: ['This work,', ' AVA2 @ 300 K'] },
          { color: C_ORANGE, lines: ['AVA4'] },
          { color: C_GREEN, lines: ['DEAP LG'] },
          { color: C_RED, lines: ['SNO AV'] },
        ]}
      />
      <LegendBox
        pos={{ left: 117, top: 1235 }}
        entries={[
          { color: C_BLUE, lines: ['This work,', ' AVA2 @ 4 K'] },
          { color: C_ORANGE, lines: ['Corning et al. (2020),', ' AVA3 @ 4 K'] },
          { color: C_GREEN, lines: ['Beavan et al. (1974)', ' TinuvinP @ 77 K'] },
        ]}
      />
    </div>
  );
}
